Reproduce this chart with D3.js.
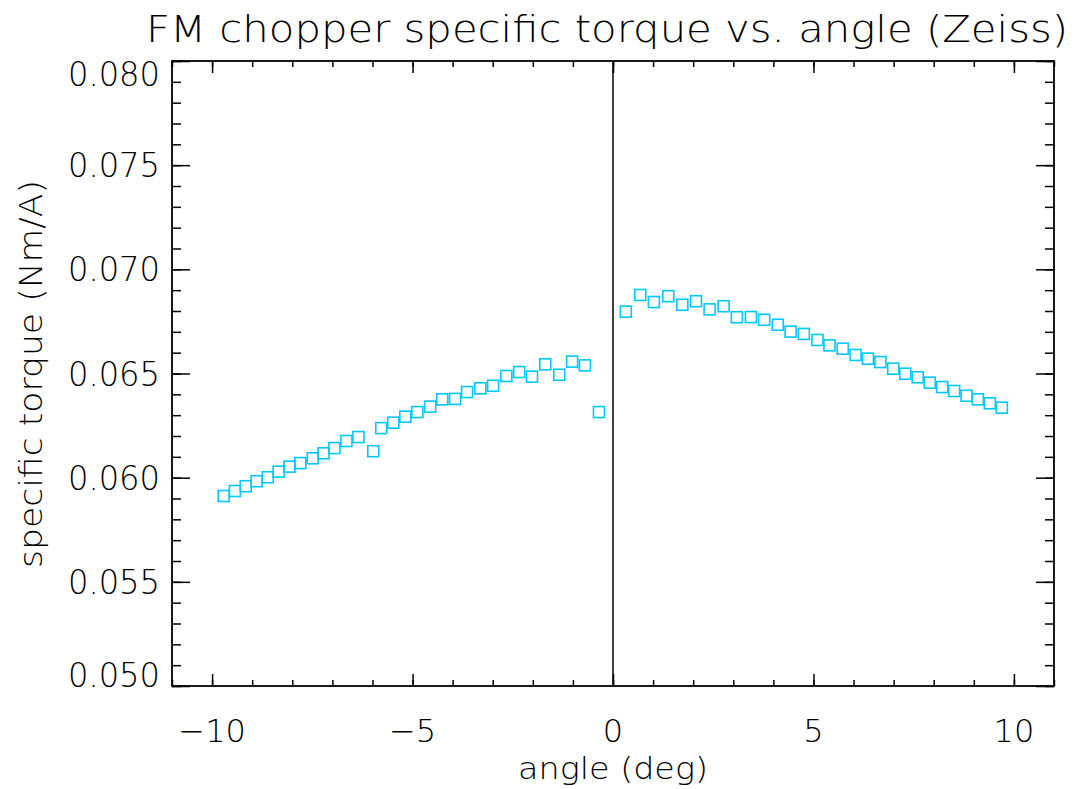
<!DOCTYPE html>
<html>
<head>
<meta charset="utf-8">
<script src="https://cdn.jsdelivr.net/npm/d3@7"></script>
<style>
  body { margin: 0; background: #fff; }
  text { font-family: "DejaVu Sans", sans-serif; font-weight: 200; fill: #000; }
</style>
</head>
<body>
<svg id="chart" width="1089" height="789"></svg>
<script>
// angle (deg) and specific torque (Nm/A)
const angleNeg = [-9.71, -9.43, -9.16, -8.89, -8.61, -8.34, -8.07, -7.80, -7.49, -7.22, -6.95, -6.65, -6.35, -5.98, -5.78, -5.48,
    -5.18, -4.88, -4.56, -4.26, -3.94, -3.64, -3.31, -2.99, -2.66, -2.34, -2.02, -1.69, -1.34, -1.02, -0.70, -0.35]
const torqueNeg = [0.05912, 0.05936, 0.05959, 0.05983, 0.06002, 0.06029, 0.06053, 0.06070, 0.06093, 0.06117, 0.06142, 0.06176, 0.06195, 0.06127, 0.06238, 0.06264,
    0.06293, 0.06315, 0.06341, 0.06376, 0.06378, 0.06411, 0.06429, 0.06441, 0.06488, 0.06507, 0.06485, 0.06544, 0.06494, 0.06557, 0.06539, 0.06315]

const anglePos = [0.32, 0.68, 1.02, 1.38, 1.73, 2.07, 2.41, 2.76, 3.09, 3.44, 3.77, 4.11, 4.43, 4.76, 5.10,
    5.40, 5.73, 6.05, 6.36, 6.67, 6.99, 7.29, 7.60, 7.90, 8.21, 8.51, 8.82, 9.10, 9.40, 9.70]
const torquePos = [0.06797, 0.06877, 0.06843, 0.06871, 0.06830, 0.06847, 0.06808, 0.06823, 0.06770, 0.06771, 0.06758, 0.06734, 0.06701, 0.06690, 0.06661,
    0.06635, 0.06619, 0.06589, 0.06571, 0.06555, 0.06523, 0.06499, 0.06482, 0.06456, 0.06435, 0.06416, 0.06393, 0.06376, 0.06357, 0.06336]

const xTicks = [-10, -5, 0, 5, 10]
const yTicks = [0.050, 0.055, 0.060, 0.065, 0.070, 0.075, 0.080]

const points = angleNeg.map((a, i) => ({a, t: torqueNeg[i]}))
    .concat(anglePos.map((a, i) => ({a, t: torquePos[i]})))

const plotL = 172, plotR = 1054, plotT = 61, plotB = 686

const x = d3.scaleLinear().domain([-11, 11]).range([plotL, plotR])
const y = d3.scaleLinear().domain([0.050, 0.080]).range([plotB, plotT])

const svg = d3.select("#chart")

const xMinor = d3.range(-11, 11.01, 1)
const yMinor = d3.range(0.050, 0.08001, 0.001)

const fmtX = d => d < 0 ? "\u2212" + Math.abs(d) : String(d)

// minor ticks on all four sides
svg.append("g").attr("transform", `translate(0,${plotB})`)
    .call(d3.axisTop(x).tickValues(xMinor).tickSize(6).tickFormat(""))
svg.append("g").attr("transform", `translate(0,${plotT})`)
    .call(d3.axisBottom(x).tickValues(xMinor).tickSize(6).tickFormat(""))
svg.append("g").attr("transform", `translate(${plotL},0)`)
    .call(d3.axisRight(y).tickValues(yMinor).tickSize(9).tickFormat(""))
svg.append("g").attr("transform", `translate(${plotR},0)`)
    .call(d3.axisLeft(y).tickValues(yMinor).tickSize(9).tickFormat(""))

// major ticks
svg.append("g").attr("transform", `translate(0,${plotB})`)
    .call(d3.axisTop(x).tickValues(xTicks).tickSize(12).tickFormat(""))
svg.append("g").attr("transform", `translate(0,${plotT})`)
    .call(d3.axisBottom(x).tickValues(xTicks).tickSize(12).tickFormat(""))
svg.append("g").attr("transform", `translate(${plotL},0)`)
    .call(d3.axisRight(y).tickValues(yTicks).tickSize(18).tickFormat(""))
svg.append("g").attr("transform", `translate(${plotR},0)`)
    .call(d3.axisLeft(y).tickValues(yTicks).tickSize(18).tickFormat(""))

svg.selectAll(".domain").remove()
svg.selectAll(".tick line").attr("stroke", "#000").attr("stroke-width", 1.5)

// frame
svg.append("rect")
    .attr("x", plotL).attr("y", plotT)
    .attr("width", plotR - plotL).attr("height", plotB - plotT)
    .attr("fill", "none").attr("stroke", "#000").attr("stroke-width", 1.8)

// tick labels
svg.append("g").selectAll("text")
    .data(xTicks).enter().append("text")
    .attr("x", d => x(d)).attr("y", 742)
    .attr("text-anchor", "middle")
    .attr("font-size", 32)
    .text(fmtX)

svg.append("g").selectAll("text")
    .data(yTicks).enter().append("text")
    .attr("x", 160)
    .attr("y", (d, i) => y(d) + (i === 0 ? 1 : i === yTicks.length - 1 ? 25 : 12))
    .attr("text-anchor", "end")
    .attr("font-size", 34)
    .attr("textLength", 92).attr("lengthAdjust", "spacingAndGlyphs")
    .text(d => d.toFixed(3))

// zero line
svg.append("line")
    .attr("x1", x(0)).attr("x2", x(0))
    .attr("y1", plotT).attr("y2", plotB)
    .attr("stroke", "#000").attr("stroke-width", 1.5)

// data squares
svg.append("g").selectAll("rect")
    .data(points).enter().append("rect")
    .attr("x", d => x(d.a) - 5.5).attr("y", d => y(d.t) - 5.5)
    .attr("width", 11).attr("height", 11)
    .attr("fill", "none").attr("stroke", "#00c8ff").attr("stroke-width", 1.6)

// titles
svg.append("text")
    .attr("x", 607).attr("y", 42)
    .attr("text-anchor", "middle").attr("font-size", 38)
    .attr("textLength", 922).attr("lengthAdjust", "spacingAndGlyphs")
    .text("FM chopper specific torque vs. angle (Zeiss)")

svg.append("text")
    .attr("x", 613).attr("y", 779)
    .attr("text-anchor", "middle").attr("font-size", 30)
    .attr("textLength", 190).attr("lengthAdjust", "spacingAndGlyphs")
    .text("angle (deg)")

svg.append("text")
    .attr("transform", "translate(42,374) rotate(-90)")
    .attr("text-anchor", "middle").attr("font-size", 32)
    .attr("textLength", 388).attr("lengthAdjust", "spacingAndGlyphs")
    .text("specific torque (Nm/A)")
</script>
</body>
</html>
